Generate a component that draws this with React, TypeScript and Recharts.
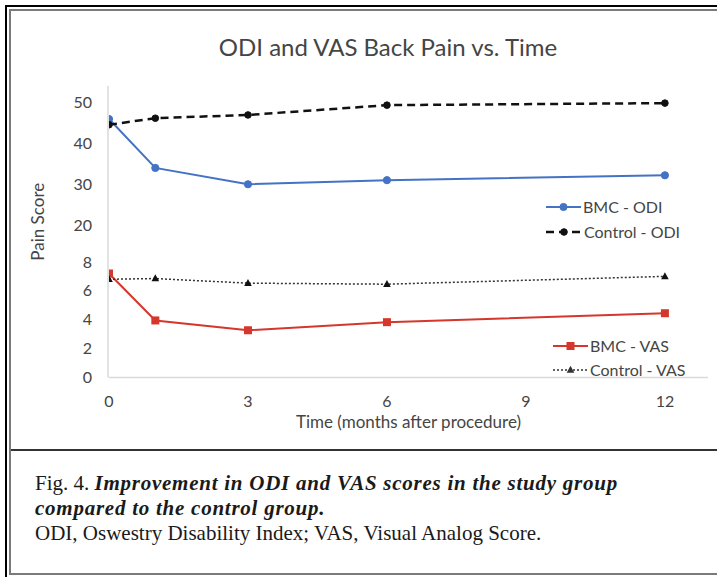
import React from "react";
import { LineChart, Line, XAxis, YAxis, Legend } from "recharts";

const months = [0, 1, 3, 6, 12];
const bmcOdi = [46, 34, 30, 31, 32.2];
const ctrlOdi = [44.6, 46.2, 47, 49.4, 49.9];
const bmcVas = [7.2, 3.95, 3.27, 3.83, 4.45];
const ctrlVas = [6.8, 6.85, 6.53, 6.46, 7.0];

const xTicks = [0, 3, 6, 9, 12];
const odiTicks = [20, 30, 40, 50];
const vasTicks = [0, 2, 4, 6, 8];

const seriesNames = {
  bmcOdi: "BMC - ODI",
  ctrlOdi: "Control - ODI",
  bmcVas: "BMC - VAS",
  ctrlVas: "Control - VAS",
};

const data = months.map((m, i) => ({
  month: m,
  bmcOdi: bmcOdi[i],
  ctrlOdi: ctrlOdi[i],
  bmcVas: bmcVas[i],
  ctrlVas: ctrlVas[i],
}));

const FONT = "Lato, 'Open Sans', sans-serif";
const TEXT = "#454545";
const BLUE = "#4472C4";
const RED = "#D5372C";

type MarkerKind = "circle" | "dot" | "square" | "triangle";

function drawMarker(kind: MarkerKind, color: string, cx: number, cy: number, key?: any) {
  if (kind === "circle") return <circle key={key} cx={cx} cy={cy} r={3.6} fill={color} stroke={color} />;
  if (kind === "dot") return <circle key={key} cx={cx} cy={cy} r={3.3} fill={color} stroke={color} />;
  if (kind === "square")
    return <rect key={key} x={cx - 4} y={cy - 4} width={8} height={8} fill={color} />;
  return (
    <path
      key={key}
      d={`M${cx},${cy - 4.2} L${cx + 3.8},${cy + 2.8} L${cx - 3.8},${cy + 2.8} Z`}
      fill={color}
    />
  );
}

const makeDot = (kind: MarkerKind, color: string) => (props: any) => {
  const { cx, cy, index } = props;
  if (cx == null || cy == null) return <g key={index} />;
  return drawMarker(kind, color, cx, cy, index);
};

// y tick labels: y comes from the axis scale, right-aligned at the plot edge
const YTick = (props: any) => {
  const { y, payload } = props;
  return (
    <text
      x={92}
      y={y}
      dy="0.35em"
      textAnchor="end"
      fontFamily={FONT}
      fontSize={16}
      fill={TEXT}
    >
      {payload.value}
    </text>
  );
};

const legendInfo: Record<string, { x: number; y: number; kind: MarkerKind; len: number }> = {
  bmcOdi: { x: 546, y: 207, kind: "circle", len: 35 },
  ctrlOdi: { x: 546, y: 232, kind: "dot", len: 36 },
  bmcVas: { x: 553, y: 346, kind: "square", len: 35 },
  ctrlVas: { x: 553, y: 370, kind: "triangle", len: 35 },
};

const LegendContent = (props: any) => {
  const payload = props.payload || [];
  return (
    <svg width={717} height={450} style={{ position: "absolute", left: 0, top: 0 }}>
      {payload.map((e: any) => {
        const info = legendInfo[e.dataKey];
        if (!info) return null;
        const p = e.payload || {};
        const color = p.stroke || e.color;
        return (
          <g key={e.dataKey}>
            <line
              x1={info.x}
              x2={info.x + info.len}
              y1={info.y}
              y2={info.y}
              stroke={color}
              strokeWidth={p.strokeWidth || 2}
              strokeDasharray={p.strokeDasharray}
            />
            {drawMarker(info.kind, color, info.x + info.len / 2, info.y)}
            <text
              x={info.x + info.len + 2}
              y={info.y}
              dy="0.35em"
              fontFamily={FONT}
              fontSize={16}
              fill={TEXT}
            >
              {e.value}
            </text>
          </g>
        );
      })}
    </svg>
  );
};

export default function App() {
  return (
    <div
      style={{
        position: "absolute",
        left: 0,
        top: 0,
        width: 717,
        height: 577,
        overflow: "hidden",
        background: "#fff",
      }}
    >
      <div
        style={{
          position: "absolute",
          left: 5,
          top: 5,
          width: 800,
          height: 800,
          border: "2px solid #000",
          boxSizing: "border-box",
        }}
      />
      <div
        style={{
          position: "absolute",
          left: 9,
          top: 9,
          width: 800,
          height: 566,
          border: "2px solid #7a7a7a",
          boxSizing: "border-box",
        }}
      />
      <div
        style={{
          position: "absolute",
          left: 11,
          top: 449,
          width: 800,
          height: 2,
          background: "#333",
        }}
      />
      <div
        style={{
          position: "absolute",
          left: 0,
          top: 32,
          width: 776,
          textAlign: "center",
          fontFamily: FONT,
          fontSize: 24,
          color: TEXT,
          lineHeight: "30px",
        }}
      >
        ODI and VAS Back Pain vs. Time
      </div>
      <div style={{ position: "absolute", left: 0, top: 0 }}>
        <LineChart
          width={717}
          height={450}
          data={data}
          margin={{ top: 86, right: 9, bottom: 42.5, left: 20 }}
        >
          <XAxis
            dataKey="month"
            type="number"
            domain={[0, 12.93]}
            ticks={xTicks}
            allowDataOverflow
            stroke="#d9d9d9"
            strokeWidth={1.5}
            tickLine={false}
            tickSize={0}
            tickMargin={18}
            height={30}
            tick={{ fill: TEXT, fontSize: 16, fontFamily: FONT }}
            label={{
              value: "Time (months after procedure)",
              position: "bottom",
              offset: 8,
              style: { fill: TEXT, fontSize: 17, fontFamily: FONT },
            }}
          />
          <YAxis
            yAxisId="odi"
            type="number"
            domain={[-17.4, 54.1]}
            ticks={odiTicks}
            allowDataOverflow
            width={1}
            axisLine={false}
            tickLine={false}
            tickSize={0}
            tick={YTick}
          />
          <YAxis
            yAxisId="vas"
            type="number"
            domain={[0, 20.18]}
            ticks={vasTicks}
            allowDataOverflow
            width={88}
            stroke="#d9d9d9"
            strokeWidth={1.5}
            tickLine={false}
            tickSize={0}
            tick={YTick}
            label={{
              value: "Pain Score",
              angle: -90,
              position: "insideLeft",
              offset: 18,
              dy: -10,
              style: { textAnchor: "middle", fill: TEXT, fontSize: 17, fontFamily: FONT },
            }}
          />
          <Legend
            layout="horizontal"
            verticalAlign="middle"
            align="center"
            content={LegendContent}
            wrapperStyle={{ position: "absolute", left: 0, top: 0, width: 717, height: 450, pointerEvents: "none" }}
          />
          <Line
            yAxisId="odi"
            dataKey="bmcOdi"
            name={seriesNames.bmcOdi}
            stroke={BLUE}
            strokeWidth={2}
            dot={makeDot("circle", BLUE)}
            isAnimationActive={false}
          />
          <Line
            yAxisId="odi"
            dataKey="ctrlOdi"
            name={seriesNames.ctrlOdi}
            stroke="#111"
            strokeWidth={2.5}
            strokeDasharray="8 5"
            dot={makeDot("dot", "#111")}
            isAnimationActive={false}
          />
          <Line
            yAxisId="vas"
            dataKey="bmcVas"
            name={seriesNames.bmcVas}
            stroke={RED}
            strokeWidth={2}
            dot={makeDot("square", RED)}
            isAnimationActive={false}
          />
          <Line
            yAxisId="vas"
            dataKey="ctrlVas"
            name={seriesNames.ctrlVas}
            stroke="#333"
            strokeWidth={1.5}
            strokeDasharray="2 2"
            dot={makeDot("triangle", "#111")}
            isAnimationActive={false}
          />
        </LineChart>
      </div>
      <div
        style={{
          position: "absolute",
          left: 35,
          top: 471,
          fontFamily: "'Liberation Serif', 'Times New Roman', serif",
          fontSize: 21,
          lineHeight: "25px",
          color: "#1a1a1a",
        }}
      >
        <div>
          Fig. 4.{" "}
          <i style={{ fontWeight: 600, letterSpacing: 0.75 }}>
            Improvement in ODI and VAS scores in the study group
          </i>
        </div>
        <div>
          <i style={{ fontWeight: 600, letterSpacing: 0.75 }}>compared to the control group.</i>
        </div>
        <div>ODI, Oswestry Disability Index; VAS, Visual Analog Score.</div>
      </div>
    </div>
  );
}
